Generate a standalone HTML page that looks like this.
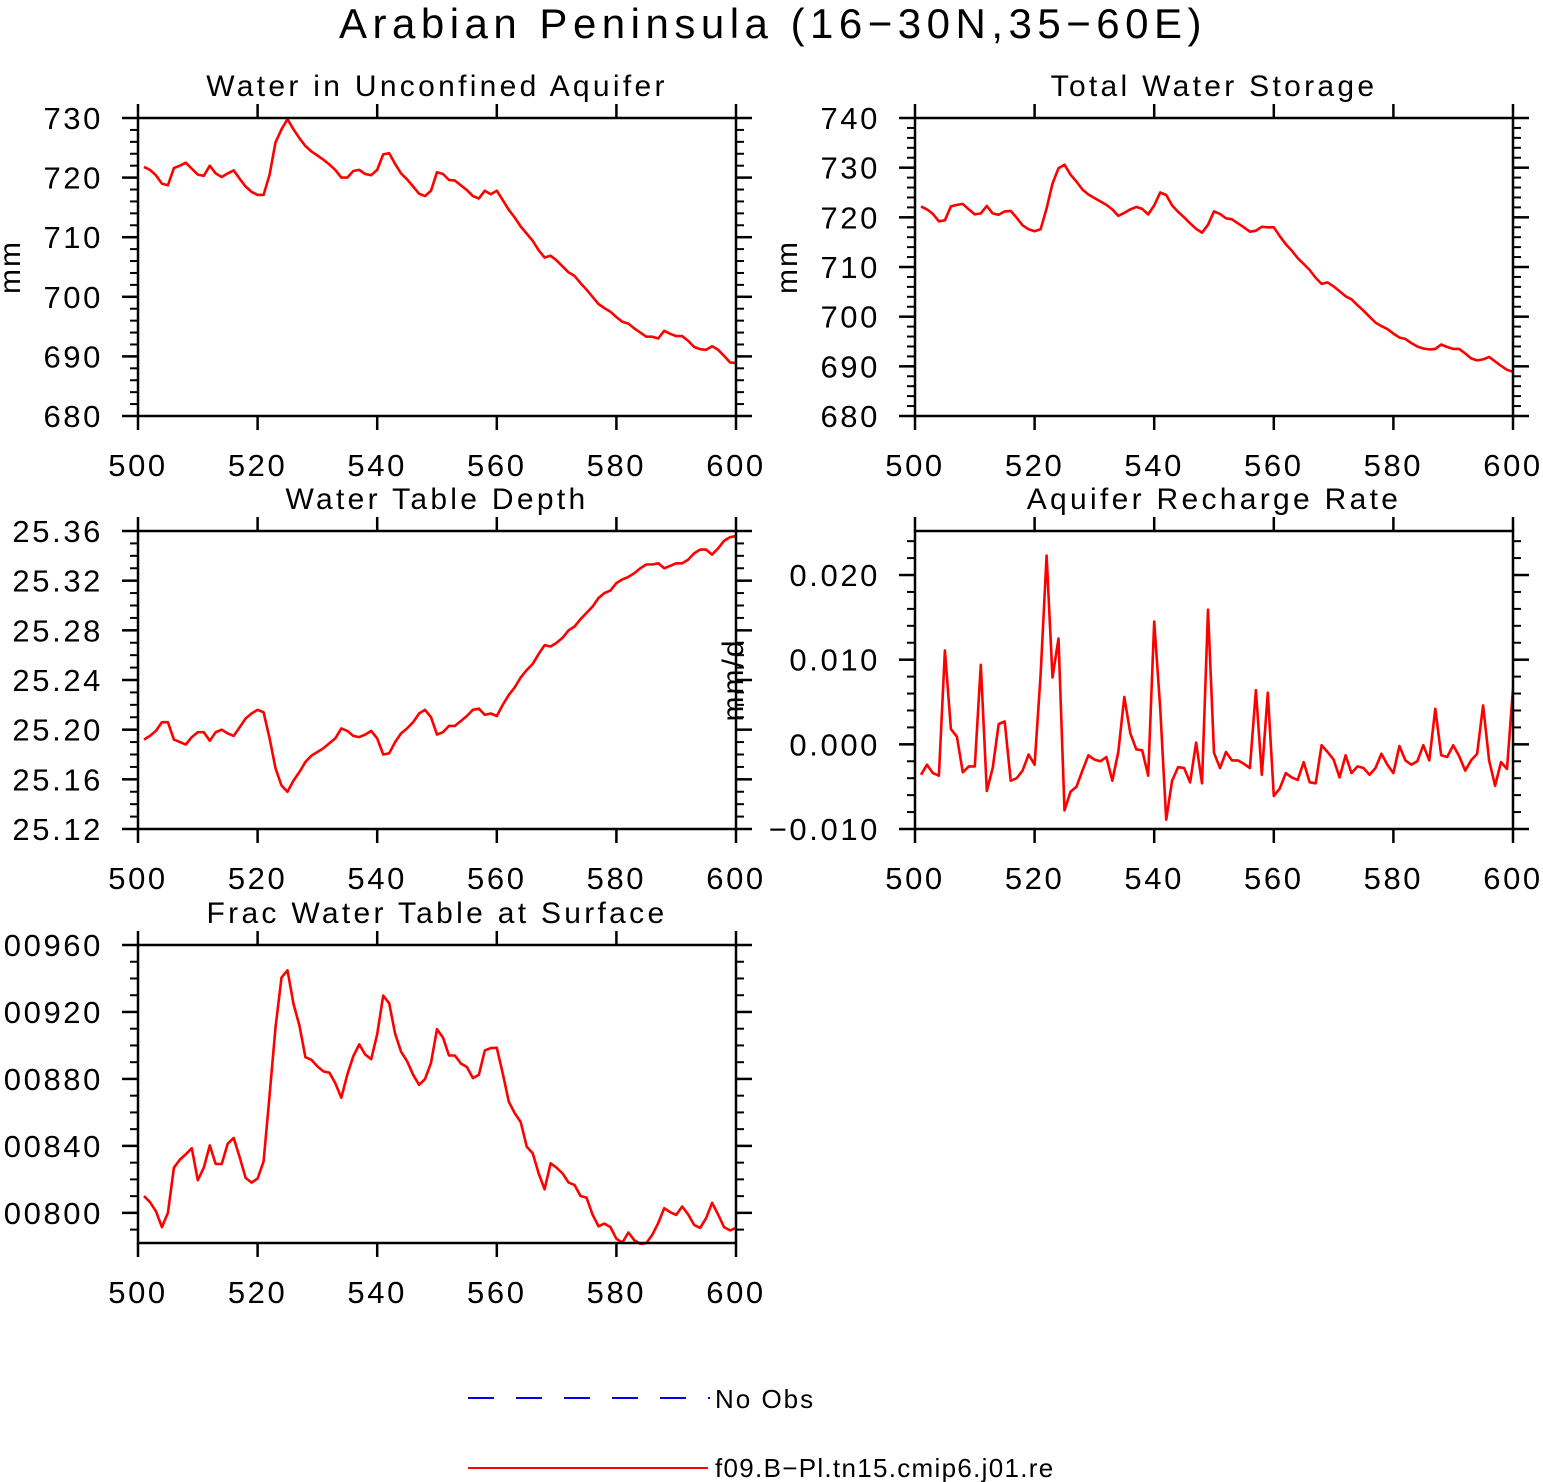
<!DOCTYPE html>
<html><head><meta charset="utf-8">
<style>
html,body{margin:0;padding:0;background:#fff;}
svg{display:block;font-family:"Liberation Sans",sans-serif;}
</style></head>
<body>
<svg id="chart" width="1543" height="1482" viewBox="0 0 1543 1482" xmlns="http://www.w3.org/2000/svg">
<text x="773" y="38" font-size="42" text-anchor="middle" letter-spacing="5.5" font-weight="300">Arabian Peninsula (16−30N,35−60E)</text>
<g>
<line x1="468" y1="1398" x2="710" y2="1398" stroke="#0000ff" stroke-width="2" stroke-dasharray="26,22"/>
<text x="715" y="1408" font-size="26" letter-spacing="2">No Obs</text>
<line x1="468" y1="1468" x2="708" y2="1468" stroke="#ff0000" stroke-width="2"/>
<text x="715" y="1477" font-size="26" letter-spacing="1.3">f09.B−Pl.tn15.cmip6.j01.re</text>
</g>
</svg>
<script>
const xTicks=[500,520,540,560,580,600];
const waterUnconfined=[721.8,721.3,720.4,719.0,718.7,721.6,722.0,722.5,721.5,720.5,
720.3,722.0,720.7,720.1,720.7,721.2,719.8,718.5,717.6,717.1,
717.1,720.5,725.9,728.1,729.8,728.1,726.6,725.3,724.4,723.7,
723.0,722.2,721.3,720.0,720.0,721.1,721.3,720.6,720.4,721.3,
723.9,724.1,722.3,720.7,719.7,718.5,717.3,716.9,717.8,720.9,
720.6,719.6,719.5,718.7,717.9,716.9,716.5,717.8,717.2,717.8,
716.2,714.6,713.3,711.8,710.6,709.4,707.8,706.6,706.9,706.1,
705.1,704.1,703.5,702.3,701.2,700.0,698.8,698.1,697.5,696.6,
695.8,695.5,694.7,694.0,693.3,693.3,693.0,694.3,693.8,693.4,
693.4,692.6,691.6,691.2,691.1,691.7,691.1,690.1,689.0,688.9];
const totalStorage=[722.2,721.6,720.7,719.2,719.4,722.2,722.5,722.7,721.6,720.6,
720.8,722.3,720.8,720.5,721.2,721.3,719.9,718.4,717.6,717.2,
717.6,721.8,726.8,729.9,730.6,728.6,727.2,725.6,724.6,723.9,
723.2,722.5,721.6,720.3,720.9,721.6,722.1,721.7,720.6,722.4,
725.0,724.5,722.4,721.1,720.0,718.8,717.7,716.9,718.5,721.2,
720.7,719.8,719.6,718.8,718.0,717.1,717.3,718.1,718.0,718.0,
716.2,714.6,713.3,711.8,710.6,709.4,707.8,706.6,706.9,706.1,
705.1,704.1,703.5,702.3,701.2,700.0,698.8,698.1,697.5,696.6,
695.8,695.5,694.7,694.0,693.6,693.4,693.5,694.4,693.9,693.5,
693.5,692.6,691.6,691.2,691.4,691.9,691.0,690.1,689.3,688.9];
const waterTableDepth=[25.192,25.195,25.199,25.206,25.206,25.192,25.190,25.188,25.194,25.198,
25.198,25.191,25.198,25.200,25.197,25.195,25.202,25.209,25.213,25.216,
25.214,25.193,25.169,25.155,25.150,25.159,25.166,25.174,25.179,25.182,
25.185,25.189,25.193,25.201,25.199,25.195,25.194,25.196,25.199,25.193,
25.180,25.181,25.190,25.197,25.201,25.206,25.213,25.216,25.210,25.196,
25.198,25.203,25.203,25.207,25.211,25.216,25.217,25.212,25.213,25.211,
25.220,25.228,25.234,25.242,25.248,25.253,25.261,25.268,25.267,25.270,
25.274,25.280,25.283,25.289,25.294,25.299,25.306,25.310,25.312,25.318,
25.321,25.323,25.326,25.330,25.333,25.333,25.334,25.330,25.332,25.334,
25.334,25.337,25.342,25.345,25.345,25.341,25.346,25.352,25.355,25.356];
const rechargeRate=[-3.6,-2.4,-3.4,-3.7,11.1,1.8,0.9,-3.3,-2.6,-2.6,
9.4,-5.5,-2.8,2.4,2.7,-4.3,-4.0,-3.1,-1.2,-2.4,
8.2,22.3,7.9,12.5,-7.8,-5.6,-5.0,-3.1,-1.3,-1.8,
-2.0,-1.5,-4.3,-0.9,5.6,1.3,-0.6,-0.7,-3.7,14.5,
4.3,-8.9,-4.3,-2.7,-2.8,-4.5,0.2,-4.6,15.9,-1.0,
-2.8,-0.9,-1.9,-1.9,-2.3,-2.8,6.4,-3.6,6.1,-6.1,
-5.2,-3.4,-3.9,-4.2,-2.1,-4.5,-4.6,-0.1,-0.9,-1.8,
-3.9,-1.3,-3.4,-2.6,-2.8,-3.6,-2.8,-1.1,-2.4,-3.4,
-0.2,-1.9,-2.4,-2.0,-0.1,-1.9,4.2,-1.3,-1.5,-0.1,
-1.4,-3.1,-1.9,-1.1,4.6,-1.9,-4.9,-2.1,-2.9,6.6];
const fracSurface=[810.1,806.4,801.0,791.5,800.0,827.0,831.8,835.0,838.6,819.5,
827.0,840.3,829.2,829.2,841.3,844.7,833.2,820.9,818.1,820.5,
830.8,870.4,910.7,940.5,944.9,924.8,911.7,893.0,891.4,887.5,
884.5,883.7,877.5,868.8,882.5,893.6,900.6,894.6,891.8,906.7,
929.8,925.2,907.1,896.2,890.6,882.5,876.5,879.9,889.6,909.7,
904.7,894.0,894.0,889.2,887.1,880.5,882.5,897.0,898.4,898.6,
883.1,866.4,859.6,854.3,839.6,835.6,823.5,814.1,829.6,827.0,
823.5,818.1,816.7,810.1,809.1,799.0,792.0,793.6,791.5,784.5,
782.3,788.3,783.7,781.5,781.9,786.9,794.0,802.8,800.4,798.8,
803.8,799.0,792.8,791.0,796.8,806.0,799.0,791.5,789.5,791.0];
const ticks1=[680,690,700,710,720,730], labels1=["680","690","700","710","720","730"];
const ticks2=[680,690,700,710,720,730,740], labels2=["680","690","700","710","720","730","740"];
const ticks3=[25.12,25.16,25.20,25.24,25.28,25.32,25.36], labels3=["25.12","25.16","25.20","25.24","25.28","25.32","25.36"];
const ticks4=[-0.010,0,0.010,0.020], labels4=["−0.010","0.000","0.010","0.020"];
const ticks5=[0.0080,0.0084,0.0088,0.0092,0.0096], labels5=["0.00800","0.00840","0.00880","0.00920","0.00960"];

const NS="http://www.w3.org/2000/svg";
const svg=document.getElementById('chart');
function mk(tag,attrs,parent){const e=document.createElementNS(NS,tag);for(const k in attrs)e.setAttribute(k,attrs[k]);(parent||svg).appendChild(e);return e;}

function panel(o){
  const g=mk('g',{});
  
  
  const {x0,x1,y0,y1,ymin,ymax}=o;
  const sx=v=>x0+(v-500)/100*(x1-x0);
  const sy=v=>y1-(v-ymin)/(ymax-ymin)*(y1-y0);
  const t=mk('text',{x:(x0+x1)/2,y:y0-22,'font-size':30,'text-anchor':'middle','letter-spacing':3.3},g);
  t.textContent=o.title;
  
  
  for(let v=o.minorStart; v<=ymax+1e-9; v+=o.minorStep){
    const y=sy(v); if(y<y0-0.5||y>y1+0.5) continue;
    const m1=mk('line',{x1:x0-8,y1:y,x2:x0,y2:y,stroke:'#000','stroke-width':2},g);
    
    
    const m2=mk('line',{x1:x1,y1:y,x2:x1+8,y2:y,stroke:'#000','stroke-width':2},g);
    
    
  }
  o.ticks.forEach((v,i)=>{
    const y=sy(v);
    const a=mk('line',{x1:x0-16,y1:y,x2:x0,y2:y,stroke:'#000','stroke-width':2.5},g);
    
    
    const b=mk('line',{x1:x1,y1:y,x2:x1+16,y2:y,stroke:'#000','stroke-width':2.5},g);
    
    
    const lt=mk('text',{x:x0-35,y:y+11,'font-size':31,'text-anchor':'end','letter-spacing':2.6},g);
    lt.textContent=o.labels[i];
    
    
  });
  xTicks.forEach(v=>{
    const x=sx(v);
    const a=mk('line',{x1:x,y1:y0-14,x2:x,y2:y0,stroke:'#000','stroke-width':2.5},g);
    
    
    const b=mk('line',{x1:x,y1:y1,x2:x,y2:y1+14,stroke:'#000','stroke-width':2.5},g);
    
    
    const lt=mk('text',{x:x,y:y1+60,'font-size':31,'text-anchor':'middle','letter-spacing':2.6},g);
    lt.textContent=String(v);
    
    
  });
  const pts=o.data.map((v,i)=>sx(501+i).toFixed(1)+','+sy(v*o.scale).toFixed(1)).join(' ');
  const clip=mk('clipPath',{id:'clip-'+o.name},g);
  mk('rect',{x:x0,y:y0-2,width:x1-x0,height:y1-y0+4},clip);
  const pl=mk('polyline',{points:pts,fill:'none',stroke:'#ff0000','stroke-width':2.6,'stroke-linejoin':'round','clip-path':'url(#clip-'+o.name+')'},g);
  
  
  const fr=mk('rect',{x:x0,y:y0,width:x1-x0,height:y1-y0,fill:'none',stroke:'#000','stroke-width':2.5},g);
  
  
  if(o.ylabel){
    const yl=mk('text',{x:0,y:0,'font-size':30,'text-anchor':'middle','letter-spacing':2,transform:'translate('+o.ylx+','+o.yly+') rotate(-90)'},g);
    yl.textContent=o.ylabel;
    
    
  }
}
panel({name:'panel-unconfined-aquifer',title:'Water in Unconfined Aquifer',x0:138,x1:736,y0:118,y1:416,ymin:680,ymax:730,ticks:ticks1,labels:labels1,minorStart:680,minorStep:2,data:waterUnconfined,scale:1,ylabel:'mm',ylx:20,yly:267});
panel({name:'panel-total-water-storage',title:'Total Water Storage',x0:915,x1:1513,y0:118,y1:416,ymin:680,ymax:740,ticks:ticks2,labels:labels2,minorStart:680,minorStep:2,data:totalStorage,scale:1,ylabel:'mm',ylx:797,yly:267});
panel({name:'panel-water-table-depth',title:'Water Table Depth',x0:138,x1:736,y0:531,y1:829,ymin:25.12,ymax:25.36,ticks:ticks3,labels:labels3,minorStart:25.12,minorStep:0.01,data:waterTableDepth,scale:1});
panel({name:'panel-recharge-rate',title:'Aquifer Recharge Rate',x0:915,x1:1513,y0:531,y1:829,ymin:-0.010,ymax:0.0252,ticks:ticks4,labels:labels4,minorStart:-0.010,minorStep:0.002,data:rechargeRate,scale:0.001,ylabel:'mm/d',ylx:743,yly:680});
panel({name:'panel-frac-water-table',title:'Frac Water Table at Surface',x0:138,x1:736,y0:945,y1:1243,ymin:0.00782,ymax:0.0096,ticks:ticks5,labels:labels5,minorStart:0.0079,minorStep:0.0001,data:fracSurface,scale:0.00001});
</script>
</body></html>
